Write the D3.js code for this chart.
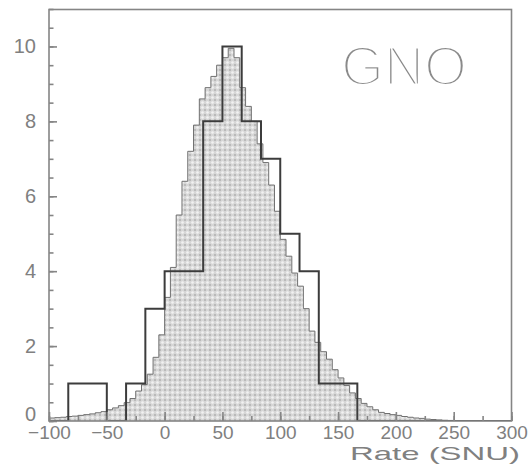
<!DOCTYPE html>
<html>
<head>
<meta charset="utf-8">
<script src="https://cdn.jsdelivr.net/npm/d3@7"></script>
<style>
  body { margin: 0; background: #fff; }
  text { font-family: "Liberation Sans", Arial, sans-serif; }
</style>
</head>
<body>
<div id="chart"></div>
<script>
// tick labels
const xTicks = [-100, -50, 0, 50, 100, 150, 200, 250, 300];
const yTicks = [0, 2, 4, 6, 8, 10];

// GNO runs, counts per bin (24 bins between -100 and 300 SNU)
const runStart = -100;
const runBinWidth = 400 / 24;
const runCounts = [0, 1, 1, 0, 1, 3, 4, 4, 8, 10, 8, 7, 5, 4, 1, 1, 0, 0, 0, 0, 0, 0, 0, 0];

// expected distribution (shaded), 5 SNU bins starting at -100
const simStart = -100;
const simBinWidth = 5;
const simValues = [
  0.08, 0.09, 0.10, 0.12, 0.13, 0.15, 0.17, 0.19, 0.22, 0.25,
  0.30, 0.35, 0.41, 0.49, 0.60, 0.80, 0.97, 1.25, 1.70, 2.30,
  3.30, 4.10, 5.50, 6.40, 7.20, 7.90, 8.60, 8.90, 9.20, 9.50,
  9.70, 9.95, 9.70, 8.90, 8.40, 8.00, 7.40, 6.90, 6.30, 5.60,
  4.85, 4.40, 3.95, 3.60, 3.00, 2.40, 2.10, 1.85, 1.65, 1.37,
  1.15, 0.95, 0.75, 0.60, 0.47, 0.38, 0.30, 0.23, 0.20, 0.17,
  0.15, 0.12, 0.10, 0.08, 0.07, 0.05, 0.04, 0.03, 0.02, 0.015,
  0.01, 0.005, 0, 0, 0, 0, 0, 0, 0, 0
];

const W = 532, H = 464;
const svg = d3.select("#chart").append("svg")
  .attr("width", W).attr("height", H);

const x = d3.scaleLinear().domain([-100, 300]).range([49, 511.5]);
const y = d3.scaleLinear().domain([0, 11]).range([421, 9]);

// dotted fill
const defs = svg.append("defs");
const pat = defs.append("pattern")
  .attr("id", "dots").attr("patternUnits", "userSpaceOnUse")
  .attr("width", 5).attr("height", 5);
pat.append("rect").attr("width", 5).attr("height", 5).attr("fill", "#d6d6d6");
pat.append("circle").attr("cx", 2.5).attr("cy", 2.5).attr("r", 1.3).attr("fill", "#f2f2f2");
[[0, 0], [5, 0], [0, 5], [5, 5]].forEach(p => {
  pat.append("circle").attr("cx", p[0]).attr("cy", p[1]).attr("r", 0.9).attr("fill", "#adadad");
});
defs.append("clipPath").attr("id", "frame")
  .append("rect").attr("x", 49).attr("y", 9).attr("width", 462.5).attr("height", 412);

// step points
const simPts = simValues.map((v, i) => [simStart + i * simBinWidth, v]);
simPts.push([simStart + simValues.length * simBinWidth, simValues[simValues.length - 1]]);
const runPts = runCounts.map((v, i) => [runStart + i * runBinWidth, v]);
runPts.push([runStart + runCounts.length * runBinWidth, runCounts[runCounts.length - 1]]);

const area = d3.area().curve(d3.curveStepAfter)
  .x(d => x(d[0])).y0(y(0)).y1(d => y(d[1]));
const line = d3.line().curve(d3.curveStepAfter)
  .x(d => x(d[0])).y(d => y(d[1]));

const plot = svg.append("g").attr("clip-path", "url(#frame)");
plot.append("path").datum(simPts).attr("d", area).attr("fill", "url(#dots)");
plot.append("path").datum(simPts).attr("d", line)
  .attr("fill", "none").attr("stroke", "#707070").attr("stroke-width", 1);
plot.append("path").datum(runPts).attr("d", line)
  .attr("fill", "none").attr("stroke", "#3c3c3c").attr("stroke-width", 2);

// frame
svg.append("rect").attr("x", 49).attr("y", 9.5).attr("width", 462.5).attr("height", 411.5)
  .attr("fill", "none").attr("stroke", "#858585").attr("stroke-width", 1.6);

// axes with inward ticks
const axisColor = "#858585";
const yMinor = svg.append("g").attr("transform", "translate(49,0)")
  .call(d3.axisLeft(y).tickValues(d3.range(0, 11.01, 0.5)).tickSize(-4.5).tickFormat(""));
const yMajor = svg.append("g").attr("transform", "translate(49,0)")
  .call(d3.axisLeft(y).tickValues(yTicks).tickSize(-8).tickPadding(13));
const xMinor = svg.append("g").attr("transform", "translate(0,421)")
  .call(d3.axisBottom(x).tickValues(d3.range(-100, 301, 25)).tickSize(-5).tickFormat(""));
const xMajor = svg.append("g").attr("transform", "translate(0,421)")
  .call(d3.axisBottom(x).tickValues(xTicks).tickSize(-9).tickPadding(5));

[yMinor, yMajor, xMinor, xMajor].forEach(g => {
  g.select(".domain").remove();
  g.selectAll("line").attr("stroke", axisColor).attr("stroke-width", 1.6);
});
yMajor.selectAll("text").attr("font-size", 20).attr("fill", "#808080")
  .attr("font-family", "Liberation Sans, Arial, sans-serif");
// lift the "0" label so it clears the -100 below it
yMajor.selectAll(".tick").filter(d => d === 0).select("text").attr("y", -7);
xMajor.selectAll("text").attr("font-size", 19).attr("fill", "#808080")
  .attr("font-family", "Liberation Sans, Arial, sans-serif");

// axis title
svg.append("text").attr("x", 520).attr("y", 460).attr("text-anchor", "end")
  .attr("font-size", 19).attr("fill", "#808080")
  .attr("textLength", 170).attr("lengthAdjust", "spacingAndGlyphs")
  .text("Rate (SNU)");

// detector label, thinned with a white stroke
svg.append("text").attr("x", 341).attr("y", 85)
  .attr("font-size", 56).attr("fill", "#8a8a8a")
  .attr("stroke", "#fff").attr("stroke-width", 3.2)
  .attr("textLength", 126).attr("lengthAdjust", "spacingAndGlyphs")
  .text("GNO");
</script>
</body>
</html>
